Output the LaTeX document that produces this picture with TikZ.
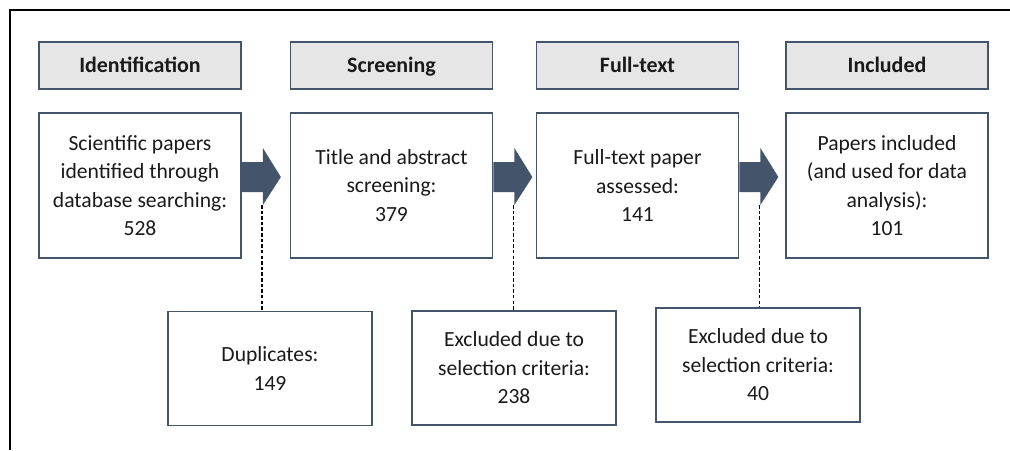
\documentclass[tikz,border=0pt]{standalone}
\usepackage{fontspec}
\setmainfont{Carlito}
\usetikzlibrary{calc}

\definecolor{slate}{HTML}{44546A}
\definecolor{lightgrey}{HTML}{E7E6E6}
\definecolor{ink}{HTML}{1A1A1A}

\tikzset{
  stage/.style={draw=slate, line width=1pt, fill=lightgrey, text=ink,
    minimum width=4.04cm, minimum height=0.94cm,
    text height=1.6ex, text depth=0.05ex,
    font=\fontsize{12.5}{15}\selectfont\bfseries},
  count/.style={draw=slate, line width=1pt, fill=white, text=ink,
    align=center, minimum width=4.04cm, minimum height=2.9cm,
    font=\fontsize{12.3}{16.2}\selectfont},
  excl/.style={count, minimum width=4.08cm, minimum height=2.28cm},
  flow/.style={fill=slate},
  cut/.style={line width=0.75pt, dash pattern=on 2pt off 1.2pt},
}

\begin{document}
\begin{tikzpicture}[x=0.02cm, y=-0.02cm]
  \useasboundingbox (0, 0) rectangle (1010, 450);

  % Frame
  \draw [line width=1.2pt] (10, 450) -- (10, 10) -- (1010, 10);

  % Stages
  \node [stage] (sid) at (140, 65.5) {Identification};
  \node [stage] (ssc) at (391.5, 65.5) {Screening};
  \node [stage] (sft) at (637.5, 65.5) {Full-text};
  \node [stage] (sin) at (887, 65.5) {Included};

  % Counts
  \node [count] (identified) at (140, 185.5)
        {Scientific papers\\identified through\\database searching:\\528};
  \node [count] (screened) at (391.5, 185.5)
        {Title and abstract\\screening:\\379};
  \node [count] (assessed) at (637.5, 185.5)
        {Full-text paper\\assessed:\\141};
  \node [count] (included) at (887, 185.5)
        {Papers included\\(and used for data\\analysis):\\101};

  % Excluded
  \node [excl] (duplicates) at (270, 368.5) {Duplicates:\\149};
  \node [excl] (excscreen) at (514, 368) {Excluded due to\\selection criteria:\\238};
  \node [excl] (excfull) at (758, 365) {Excluded due to\\selection criteria:\\40};

  % Arrows
  \fill [flow] ($(identified.east)+(0, -23.5)$) -- ++(21, 0) -- ++(0, -14)
        -- ++(18, 29) -- ++(-18, 28) -- ++(0, -13) -- ++(-21, 0) -- cycle;
  \fill [flow] ($(screened.east)+(0, -23.5)$) -- ++(21, 0) -- ++(0, -14)
        -- ++(18, 29) -- ++(-18, 28) -- ++(0, -13) -- ++(-21, 0) -- cycle;
  \fill [flow] ($(assessed.east)+(0, -23.5)$) -- ++(21, 0) -- ++(0, -14)
        -- ++(18, 29) -- ++(-18, 28) -- ++(0, -13) -- ++(-21, 0) -- cycle;

  % Dashed links
  \coordinate (cut1) at ($(identified.east)+(20, 19.5)$);
  \coordinate (cut2) at ($(screened.east)+(20, 19.5)$);
  \coordinate (cut3) at ($(assessed.east)+(20, 19.5)$);
  \draw [cut] (cut1) -- (cut1 |- duplicates.north);
  \draw [cut] (cut2) -- (cut2 |- excscreen.north);
  \draw [cut] (cut3) -- (cut3 |- excfull.north);
\end{tikzpicture}
\end{document}
